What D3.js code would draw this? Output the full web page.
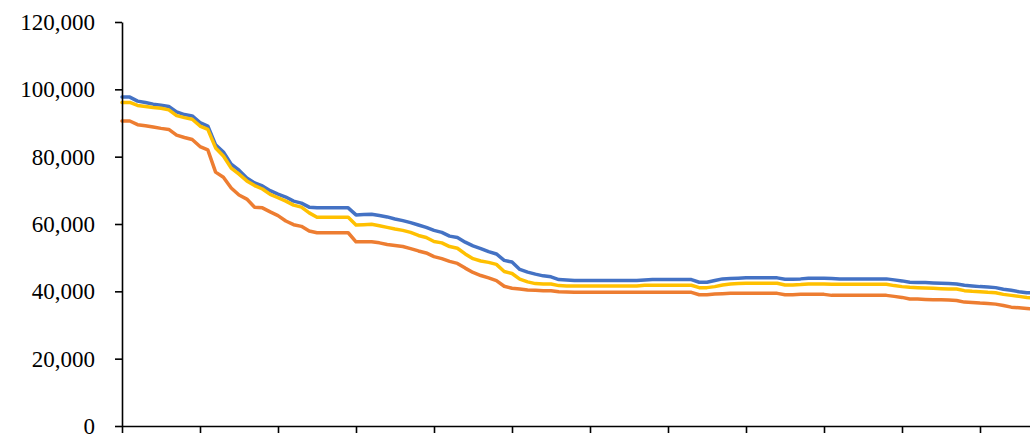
<!DOCTYPE html>
<html>
<head>
<meta charset="utf-8">
<script src="https://cdn.jsdelivr.net/npm/d3@7"></script>
<style>
  body { margin: 0; background: #fff; }
  svg { display: block; }
</style>
</head>
<body>
<svg width="1030" height="436"></svg>
<script>
// series values, one per category (the chart is cropped on the right)
const blue = [
  97700, 97700, 96500, 96100, 95600, 95300, 94900, 93300, 92500, 92100,
  90100, 89100, 83500, 81400, 77800, 76000, 73700, 72200, 71300, 69900,
  68900, 68000, 66800, 66200, 65000, 64800, 64800, 64800, 64800, 64800,
  62700, 62800, 62900, 62500, 62100, 61500, 61000, 60400, 59700, 59000,
  58100, 57500, 56400, 56000, 54600, 53500, 52700, 51800, 51100, 49200,
  48700, 46500, 45700, 45100, 44600, 44300, 43500, 43400, 43200, 43200,
  43200, 43200, 43200, 43200, 43200, 43200, 43200, 43400, 43500, 43500,
  43500, 43500, 43500, 43500, 42700, 42700, 43200, 43700, 43800, 43900,
  44000, 44000, 44000, 44000, 44000, 43600, 43600, 43700, 43900, 43900,
  43900, 43800, 43700, 43700, 43700, 43700, 43700, 43700, 43700, 43400,
  43100, 42700, 42600, 42600, 42500, 42400, 42300, 42200, 41800, 41600,
  41400, 41300, 41100, 40600, 40300, 39900, 39600, 39500
];
const orange = [
  90600, 90600, 89500, 89200, 88800, 88400, 88100, 86400, 85700, 85100,
  83000, 82000, 75400, 73900, 70700, 68600, 67400, 65000, 64800, 63600,
  62500, 60900, 59800, 59300, 57900, 57400, 57400, 57400, 57400, 57400,
  54700, 54700, 54700, 54400, 53900, 53600, 53300, 52700, 52000, 51400,
  50300, 49700, 48900, 48300, 46900, 45600, 44700, 44000, 43200, 41500,
  40900, 40700, 40400, 40300, 40200, 40200, 39900, 39800, 39700, 39700,
  39700, 39700, 39700, 39700, 39700, 39700, 39700, 39700, 39700, 39700,
  39700, 39700, 39700, 39700, 39000, 39000, 39200, 39300, 39400, 39400,
  39400, 39400, 39400, 39400, 39400, 39000, 39000, 39100, 39100, 39100,
  39100, 38800, 38800, 38800, 38800, 38800, 38800, 38800, 38800, 38500,
  38200, 37700, 37700, 37600, 37500, 37500, 37400, 37300, 36800, 36700,
  36500, 36400, 36200, 35800, 35300, 35100, 34900, 34700
];
const yellow = [
  96100, 96100, 95200, 94900, 94600, 94400, 93900, 92200, 91600, 91100,
  89100, 88100, 82600, 80200, 76600, 74800, 72800, 71400, 70400, 68800,
  67800, 66800, 65600, 65000, 63300, 62000, 62000, 62000, 62000, 62000,
  59700, 59800, 59900, 59500, 59000, 58500, 58100, 57500, 56600, 56000,
  54800, 54400, 53300, 52800, 51100, 49700, 49000, 48600, 48000, 45900,
  45300, 43600, 42800, 42300, 42200, 42200, 41700, 41600, 41600, 41600,
  41600, 41600, 41600, 41600, 41600, 41600, 41600, 41800, 41800, 41800,
  41800, 41800, 41800, 41800, 41100, 41100, 41400, 41900, 42200, 42300,
  42400, 42400, 42400, 42400, 42400, 41900, 41900, 42000, 42200, 42200,
  42200, 42100, 42100, 42100, 42100, 42100, 42100, 42100, 42100, 41700,
  41400, 41200, 41100, 41000, 40900, 40800, 40700, 40700, 40200, 40000,
  39900, 39700, 39600, 39100, 38800, 38500, 38200, 38000
];
const categories = blue.map((d, i) => i);
const xTickValues = [0, 10, 20, 30, 40, 50, 60, 70, 80, 90, 100, 110, 120, 130];
const yTickValues = [0, 20000, 40000, 60000, 80000, 100000, 120000];

const series = [
  { name: "blue", values: blue, color: "#4472C4" },
  { name: "orange", values: orange, color: "#ED7D31" },
  { name: "yellow", values: yellow, color: "#FFC000" }
];

const svg = d3.select("svg");

const x = d3.scaleLinear()
    .domain([0, 130])
    .range([122, 1136]);

const y = d3.scaleLinear()
    .domain([0, 120000])
    .range([426, 22]);

const line = d3.line()
    .x((d, i) => x(categories[i]))
    .y(d => y(d));

svg.append("g")
    .selectAll("path")
    .data(series)
    .join("path")
    .attr("fill", "none")
    .attr("stroke", d => d.color)
    .attr("stroke-width", 3.5)
    .attr("stroke-linejoin", "round")
    .attr("stroke-linecap", "round")
    .attr("d", d => line(d.values));

const yAxis = svg.append("g")
    .attr("transform", `translate(${x(0)},0)`)
    .call(d3.axisLeft(y)
        .tickValues(yTickValues)
        .tickFormat(d3.format(","))
        .tickSize(7)
        .tickSizeOuter(0)
        .tickPadding(20));

const xAxis = svg.append("g")
    .attr("transform", `translate(0,${y(0)})`)
    .call(d3.axisBottom(x)
        .tickValues(xTickValues)
        .tickFormat("")
        .tickSize(7)
        .tickSizeOuter(0));

[yAxis, xAxis].forEach(g => {
    g.selectAll(".domain, .tick line")
        .attr("stroke", "#000")
        .attr("stroke-width", 1.6);
});

yAxis.selectAll("text")
    .attr("fill", "#000")
    .style("font-family", "'Liberation Serif', 'Times New Roman', serif")
    .style("font-size", "23px");
</script>
</body>
</html>
